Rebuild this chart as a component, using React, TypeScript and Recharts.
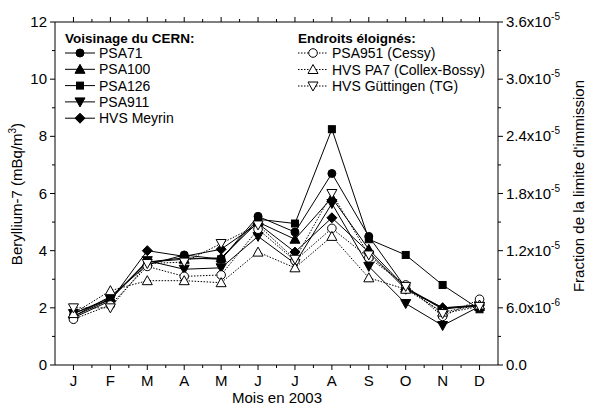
import React from "react";
import { LineChart, Line, XAxis, YAxis } from "recharts";

// Monthly Be-7 concentrations, mBq/m3
const months = ["J", "F", "M", "A", "M", "J", "J", "A", "S", "O", "N", "D"];
const psa71 = [1.7, 2.4, 3.5, 3.85, 3.7, 5.2, 4.65, 6.7, 4.5, 2.7, 1.95, 2.1];
const psa100 = [1.8, 2.35, 3.6, 3.7, 3.75, 5.0, 4.4, 5.85, 4.05, 2.7, 2.0, 2.05];
const psa126 = [1.7, 2.3, 3.6, 3.75, 3.7, 5.1, 4.95, 8.25, 4.4, 3.85, 2.8, 1.95];
const psa911 = [1.8, 2.3, 3.65, 3.35, 3.4, 4.5, 3.55, 5.65, 3.45, 2.15, 1.38, 2.05];
const hvsMeyrin = [1.65, 2.25, 4.0, 3.8, 4.05, 4.95, 3.95, 5.15, 3.95, 2.65, 2.0, 2.1];
const psa951 = [1.6, 2.1, 3.45, 3.1, 3.15, 4.75, 3.65, 4.78, 3.75, 2.8, 1.7, 2.3];
const hvsPa7 = [1.8, 2.6, 2.95, 2.95, 2.88, 3.95, 3.4, 4.5, 3.05, 2.65, 1.85, 2.1];
const hvsGottingen = [2.0, 2.0, 3.55, 3.6, 4.25, 4.9, 3.7, 6.0, 3.85, 2.75, 1.8, 2.05];

const leftTickLabels = ["0", "", "2", "", "4", "", "6", "", "8", "", "10", "", "12"];
// right axis: fraction of the immission limit (12 mBq/m3 = 3.6e-5)
const rightTickLabels: [string, string][] = [
  ["0.0", ""], ["", ""], ["6.0x10", "-6"], ["", ""], ["1.2x10", "-5"], ["", ""],
  ["1.8x10", "-5"], ["", ""], ["2.4x10", "-5"], ["", ""], ["3.0x10", "-5"], ["", ""],
  ["3.6x10", "-5"],
];

type Shape = "circle" | "up" | "square" | "down" | "diamond";
const series: { key: string; name: string; values: number[]; shape: Shape; filled: boolean }[] = [
  { key: "psa71", name: "PSA71", values: psa71, shape: "circle", filled: true },
  { key: "psa100", name: "PSA100", values: psa100, shape: "up", filled: true },
  { key: "psa126", name: "PSA126", values: psa126, shape: "square", filled: true },
  { key: "psa911", name: "PSA911", values: psa911, shape: "down", filled: true },
  { key: "hvsMeyrin", name: "HVS Meyrin", values: hvsMeyrin, shape: "diamond", filled: true },
  { key: "psa951", name: "PSA951 (Cessy)", values: psa951, shape: "circle", filled: false },
  { key: "hvsPa7", name: "HVS PA7 (Collex-Bossy)", values: hvsPa7, shape: "up", filled: false },
  { key: "hvsGottingen", name: "HVS Güttingen (TG)", values: hvsGottingen, shape: "down", filled: false },
];

const data = months.map((label, i) => {
  const row: Record<string, number | string> = { m: i + 1, label };
  series.forEach((s) => (row[s.key] = s.values[i]));
  return row;
});

const xTicks: number[] = [];
for (let i = 1; i <= months.length; i++) {
  xTicks.push(i);
  if (i < months.length) xTicks.push(i + 0.5);
}
const yTicks = leftTickLabels.map((_, i) => i);

const FONT = "'Liberation Sans', Arial, sans-serif";

function Marker({ cx, cy, shape, filled }: { cx: number; cy: number; shape: Shape; filled: boolean }) {
  const fill = filled ? "#000" : "#fff";
  const p = { fill, stroke: "#000", strokeWidth: 1 };
  switch (shape) {
    case "circle":
      return <circle cx={cx} cy={cy} r={filled ? 4 : 4.3} {...p} />;
    case "up":
      return <polygon points={`${cx},${cy - 5} ${cx - 5},${cy + 4} ${cx + 5},${cy + 4}`} {...p} />;
    case "down":
      return <polygon points={`${cx},${cy + 5} ${cx - 5},${cy - 4} ${cx + 5},${cy - 4}`} {...p} />;
    case "square":
      return <rect x={cx - 3.5} y={cy - 3.5} width={7} height={7} {...p} />;
    default:
      return <polygon points={`${cx},${cy - 5} ${cx + 5},${cy} ${cx},${cy + 5} ${cx - 5},${cy}`} {...p} />;
  }
}

const BottomTick = ({ x, y, payload }: any) => {
  const v = payload.value;
  const major = Number.isInteger(v);
  return (
    <g>
      <line x1={x} y1={y} x2={x} y2={y + (major ? 5 : 3)} stroke="#000" />
      {major && (
        <text x={x} y={y + 21} textAnchor="middle" fontSize={15} fontFamily={FONT} fill="#000">
          {months[v - 1]}
        </text>
      )}
    </g>
  );
};

const TopTick = ({ x, y, payload }: any) => {
  const major = Number.isInteger(payload.value);
  return <line x1={x} y1={y} x2={x} y2={y - (major ? 5 : 3)} stroke="#000" />;
};

const LeftTick = ({ x, y, payload }: any) => {
  const label = leftTickLabels[payload.value];
  return (
    <g>
      <line x1={x} y1={y} x2={x - (label ? 5 : 3)} y2={y} stroke="#000" />
      {label && (
        <text x={x - 8} y={y + 5} textAnchor="end" fontSize={15} fontFamily={FONT} fill="#000">
          {label}
        </text>
      )}
    </g>
  );
};

const RightTick = ({ x, y, payload }: any) => {
  const [mant, exp] = rightTickLabels[payload.value];
  return (
    <g>
      <line x1={x} y1={y} x2={x + (mant ? 5 : 3)} y2={y} stroke="#000" />
      {mant && (
        <text x={x + 8} y={y + 5} fontSize={15} fontFamily={FONT} fill="#000">
          {mant}
          {exp && (
            <tspan dy={-7} fontSize={10}>
              {exp}
            </tspan>
          )}
        </text>
      )}
    </g>
  );
};

function LegendRow({ x, y, s }: { x: number; y: number; s: (typeof series)[number] }) {
  return (
    <g>
      <line x1={x} y1={y} x2={x + 30} y2={y} stroke="#000" strokeDasharray={s.filled ? undefined : "1.5 1.5"} />
      <Marker cx={x + 15} cy={y} shape={s.shape} filled={s.filled} />
      <text x={x + 34} y={y + 5} fontSize={14} fontFamily={FONT} fill="#000">
        {s.name}
      </text>
    </g>
  );
}

export default function App() {
  const near = series.filter((s) => s.filled);
  const far = series.filter((s) => !s.filled);
  return (
    <div style={{ position: "absolute", left: 0, top: 0, width: 592, height: 410, background: "#fff" }}>
      <LineChart width={592} height={410} data={data} margin={{ top: 0, right: 0, bottom: 0, left: 0 }}>
        <XAxis
          xAxisId="b"
          dataKey="m"
          type="number"
          domain={[0.5, 12.5]}
          ticks={xTicks}
          interval={0}
          height={45}
          tickSize={0}
          tickMargin={0}
          tickLine={false}
          tick={<BottomTick />}
          axisLine={{ stroke: "#000" }}
        />
        <XAxis
          xAxisId="t"
          orientation="top"
          dataKey="m"
          type="number"
          domain={[0.5, 12.5]}
          ticks={xTicks}
          interval={0}
          height={22}
          tickSize={0}
          tickMargin={0}
          tickLine={false}
          tick={<TopTick />}
          axisLine={{ stroke: "#000" }}
        />
        <YAxis
          yAxisId="l"
          type="number"
          domain={[0, 12]}
          ticks={yTicks}
          interval={0}
          width={55}
          tickSize={0}
          tickMargin={0}
          tickLine={false}
          tick={<LeftTick />}
          axisLine={{ stroke: "#000" }}
        />
        <YAxis
          yAxisId="r"
          orientation="right"
          type="number"
          domain={[0, 12]}
          ticks={yTicks}
          interval={0}
          width={94}
          tickSize={0}
          tickMargin={0}
          tickLine={false}
          tick={<RightTick />}
          axisLine={{ stroke: "#000" }}
        />
        {/* invisible carrier so the right-hand axis and the top axis get drawn */}
        <Line
          xAxisId="t"
          yAxisId="r"
          dataKey="psa71"
          stroke="none"
          dot={false}
          activeDot={false}
          legendType="none"
          isAnimationActive={false}
        />
        {series.map((s) => (
          <Line
            key={s.key}
            xAxisId="b"
            yAxisId="l"
            dataKey={s.key}
            name={s.name}
            stroke="#000"
            strokeWidth={1}
            strokeDasharray={s.filled ? undefined : "1.5 1.5"}
            isAnimationActive={false}
            dot={(p: any) => <Marker key={`${s.key}-${p.index}`} cx={p.cx} cy={p.cy} shape={s.shape} filled={s.filled} />}
            activeDot={false}
          />
        ))}
      </LineChart>
      <svg width={592} height={410} style={{ position: "absolute", left: 0, top: 0, pointerEvents: "none" }}>
        <text x={65} y={43} fontSize={13.5} fontWeight="bold" fontFamily={FONT}>
          Voisinage du CERN:
        </text>
        {near.map((s, i) => (
          <LegendRow key={s.key} x={65} y={53 + i * 16.3} s={s} />
        ))}
        <text x={298} y={43} fontSize={13.5} fontWeight="bold" fontFamily={FONT}>
          Endroits éloignés:
        </text>
        {far.map((s, i) => (
          <LegendRow key={s.key} x={298} y={53 + i * 16.5} s={s} />
        ))}
        <text x={277} y={403} textAnchor="middle" fontSize={15} fontFamily={FONT}>
          Mois en 2003
        </text>
        <text transform="translate(22,194) rotate(-90)" textAnchor="middle" fontSize={15} fontFamily={FONT}>
          Beryllium-7 (mBq/m<tspan dy={-6} fontSize={10}>3</tspan>
          <tspan dy={6}>)</tspan>
        </text>
        <text transform="translate(584,186) rotate(-90)" textAnchor="middle" fontSize={15} fontFamily={FONT}>
          Fraction de la limite d'immission
        </text>
      </svg>
    </div>
  );
}
